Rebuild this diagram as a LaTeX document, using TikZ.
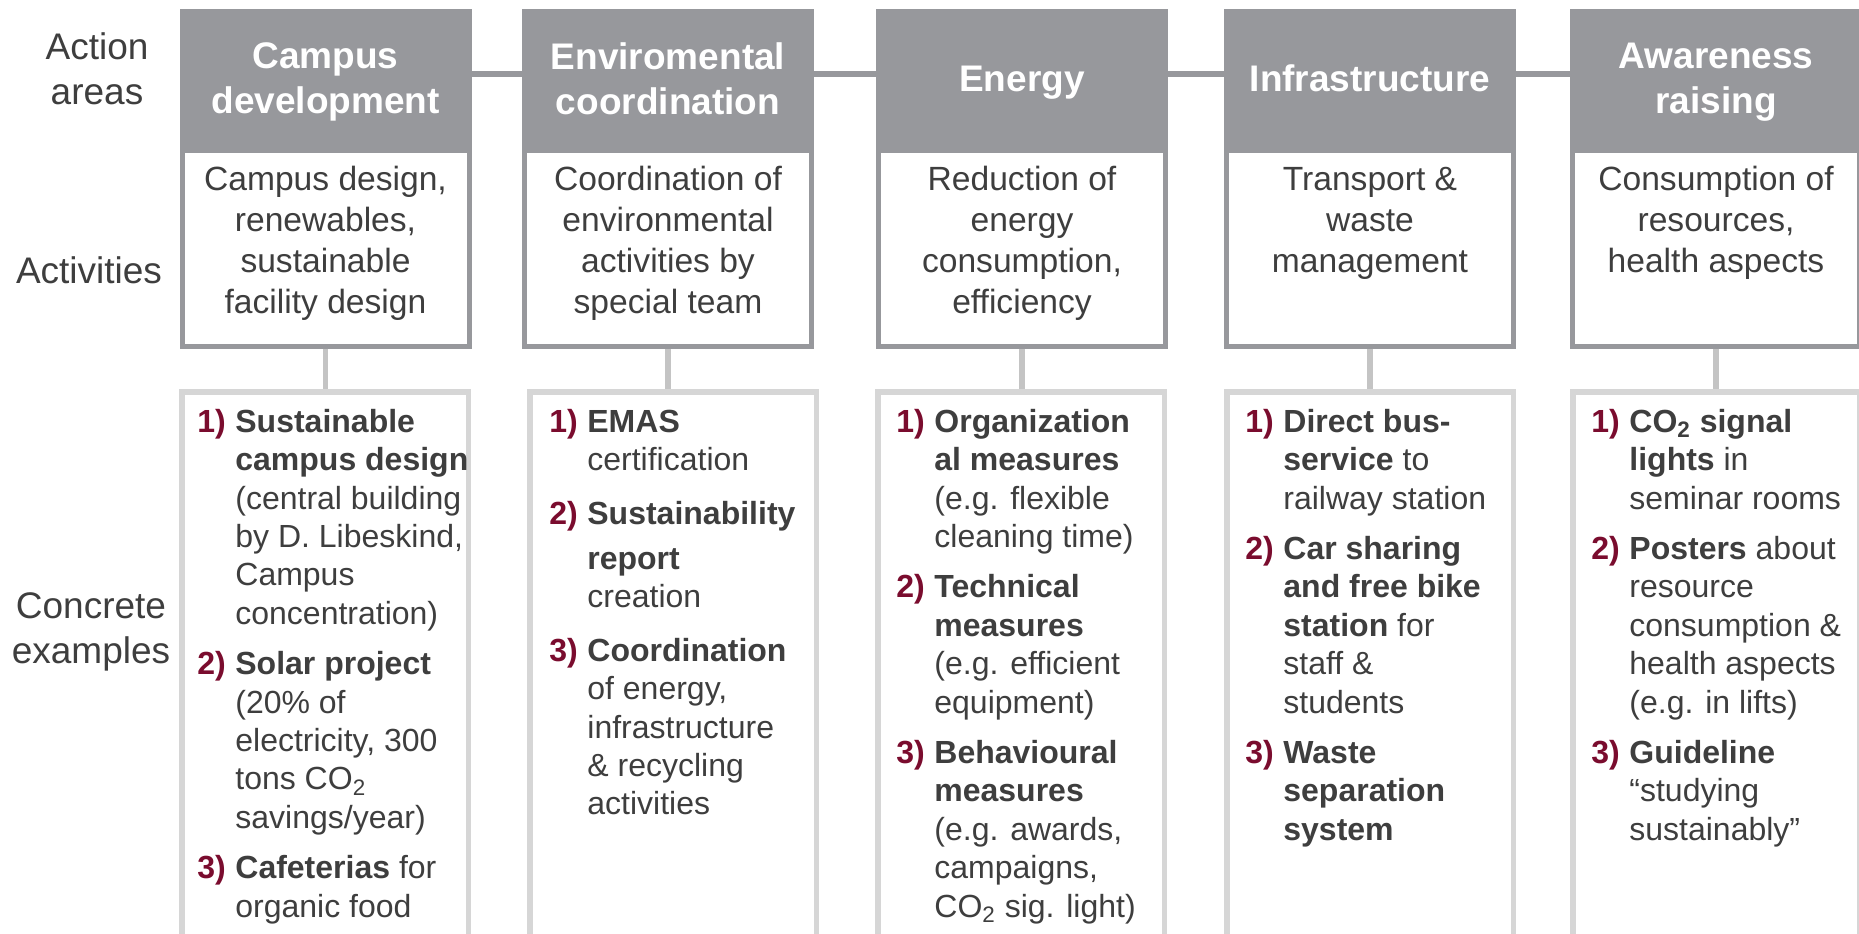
\documentclass[tikz,border=0pt]{standalone}
\usepackage{fontspec}
\setmainfont{Liberation Sans}
\usepackage{xcolor}
\definecolor{headgray}{RGB}{151,152,156}
\definecolor{linegray}{RGB}{196,196,196}
\definecolor{boxgray}{RGB}{214,214,214}
\definecolor{txtgray}{RGB}{62,62,62}
\definecolor{numred}{RGB}{122,12,46}
\newcommand{\nr}[1]{\textcolor{numred}{\bfseries #1}}

\begin{document}
\begin{tikzpicture}
  [x=0.5pt,y=-0.5pt,
   head/.style={fill=headgray,minimum width=146pt,minimum height=69.5pt,inner sep=0pt,
     text depth=0pt,text=white,font=\fontsize{18.5}{22.5}\selectfont\bfseries,align=center},
   activity/.style={draw=headgray,line width=2.5pt,fill=white,
     minimum width=143.5pt,minimum height=97.75pt,inner sep=0pt},
   actext/.style={anchor=north,inner sep=0pt,text=txtgray,font=\fontsize{16.8}{20.5}\selectfont},
   examplebox/.style={draw=boxgray,line width=2.75pt,minimum width=143.25pt,
     minimum height=290pt,inner sep=0pt},
   extext/.style={anchor=north west,inner sep=0pt,text=txtgray,font=\fontsize{16}{19.2}\selectfont},
   rowlabel/.style={text=txtgray,font=\fontsize{18.5}{22.5}\selectfont,align=center,inner sep=0pt},
   hline/.style={headgray,line width=3pt},
   vline/.style={linegray,line width=2.75pt}]
  \clip (0,0) rectangle (1859,933);

  % row labels
  \node[rowlabel] (r1) at (97,68.7)  {Action\\areas};
  \node[rowlabel] (r2) at (89,270)   {Activities};
  \node[rowlabel] (r3) at (91,632)   {Concrete\\examples};

  % action areas
  \node[head] (h1) at (325.5,78.5) {Campus\\development};
  \node[head] (h2) at (668,78.5)   {Enviromental\\coordination};
  \node[head] (h3) at (1022,78.5)  {Energy};
  \node[head] (h4) at (1370,78.5)  {Infrastructure};
  \node[head] (h5) at (1716,78.5)  {Awareness\\raising};

  % activities
  \node[activity] (a1) at (325.5,248.25) {};
  \node[activity] (a2) at (668,248.25)   {};
  \node[activity] (a3) at (1022,248.25)  {};
  \node[activity] (a4) at (1370,248.25)  {};
  \node[activity] (a5) at (1716,248.25)  {};

  \node[actext] (t1) at (325.5,161.5) {\begin{tabular}{@{}c@{}}Campus design,\\renewables,\\sustainable\\facility design\end{tabular}};
  \node[actext] (t2) at (668,161.5)   {\begin{tabular}{@{}c@{}}Coordination of\\environmental\\activities by\\special team\end{tabular}};
  \node[actext] (t3) at (1022,161.5)  {\begin{tabular}{@{}c@{}}Reduction of\\energy\\consumption,\\efficiency\end{tabular}};
  \node[actext] (t4) at (1370,161.5)  {\begin{tabular}{@{}c@{}}Transport \&\\waste\\management\end{tabular}};
  \node[actext] (t5) at (1716,161.5)  {\begin{tabular}{@{}c@{}}Consumption of\\resources,\\health aspects\end{tabular}};

  % concrete examples
  \node[examplebox] (e1) at (325,681.75)  {};
  \node[examplebox] (e2) at (673,681.75)  {};
  \node[examplebox] (e3) at (1021,681.75) {};
  \node[examplebox] (e4) at (1370,681.75) {};
  \node[examplebox] (e5) at (1716,681.75) {};

  \node[extext] (x1) at (197,405) {\begin{tabular}{@{}p{19pt}@{}l@{}}
    \nr{1)} & \textbf{Sustainable}\\
     & \textbf{campus design}\\
     & (central building\\
     & by D. Libeskind,\\
     & Campus\\
     & concentration)\\[6pt]
    \nr{2)} & \textbf{Solar project}\\
     & (20\% of\\
     & electricity, 300\\
     & tons CO\textsubscript{2}\\
     & savings/year)\\[6pt]
    \nr{3)} & \textbf{Cafeterias} for\\
     & organic food
  \end{tabular}};
  \node[extext] (x2) at (549,405) {\begin{tabular}{@{}p{19pt}@{}l@{}}
    \nr{1)} & \textbf{EMAS}\\
     & certification\\[7.6pt]
    \nr{2)} & \textbf{Sustainability}\\[3.3pt]
     & \textbf{report}\\
     & creation\\[7.6pt]
    \nr{3)} & \textbf{Coordination}\\
     & of energy,\\
     & infrastructure\\
     & \& recycling\\
     & activities
  \end{tabular}};
  \node[extext] (x3) at (896,405) {\begin{tabular}{@{}p{19pt}@{}l@{}}
    \nr{1)} & \textbf{Organization}\\
     & \textbf{al measures}\\
     & (e.g. flexible\\
     & cleaning time)\\[6pt]
    \nr{2)} & \textbf{Technical}\\
     & \textbf{measures}\\
     & (e.g. efficient\\
     & equipment)\\[6pt]
    \nr{3)} & \textbf{Behavioural}\\
     & \textbf{measures}\\
     & (e.g. awards,\\
     & campaigns,\\
     & CO\textsubscript{2} sig. light)
  \end{tabular}};
  \node[extext] (x4) at (1245,405) {\begin{tabular}{@{}p{19pt}@{}l@{}}
    \nr{1)} & \textbf{Direct bus-}\\
     & \textbf{service} to\\
     & railway station\\[6pt]
    \nr{2)} & \textbf{Car sharing}\\
     & \textbf{and free bike}\\
     & \textbf{station} for\\
     & staff \&\\
     & students\\[6pt]
    \nr{3)} & \textbf{Waste}\\
     & \textbf{separation}\\
     & \textbf{system}
  \end{tabular}};
  \node[extext] (x5) at (1591,405) {\begin{tabular}{@{}p{19pt}@{}l@{}}
    \nr{1)} & \textbf{CO\textsubscript{2} signal}\\
     & \textbf{lights} in\\
     & seminar rooms\\[6pt]
    \nr{2)} & \textbf{Posters} about\\
     & resource\\
     & consumption \&\\
     & health aspects\\
     & (e.g. in lifts)\\[6pt]
    \nr{3)} & \textbf{Guideline}\\
     & “studying\\
     & sustainably”
  \end{tabular}};

  % connectors
  \foreach \from/\to in {h1/h2,h2/h3,h3/h4,h4/h5}
    \draw[hline] ([yshift=2.4pt]\from.east) -- ([yshift=2.4pt]\to.west);
  \foreach \i in {1,...,5}
    \draw[vline] (a\i.south) -- (a\i.south |- e\i.north);

\end{tikzpicture}
\end{document}
